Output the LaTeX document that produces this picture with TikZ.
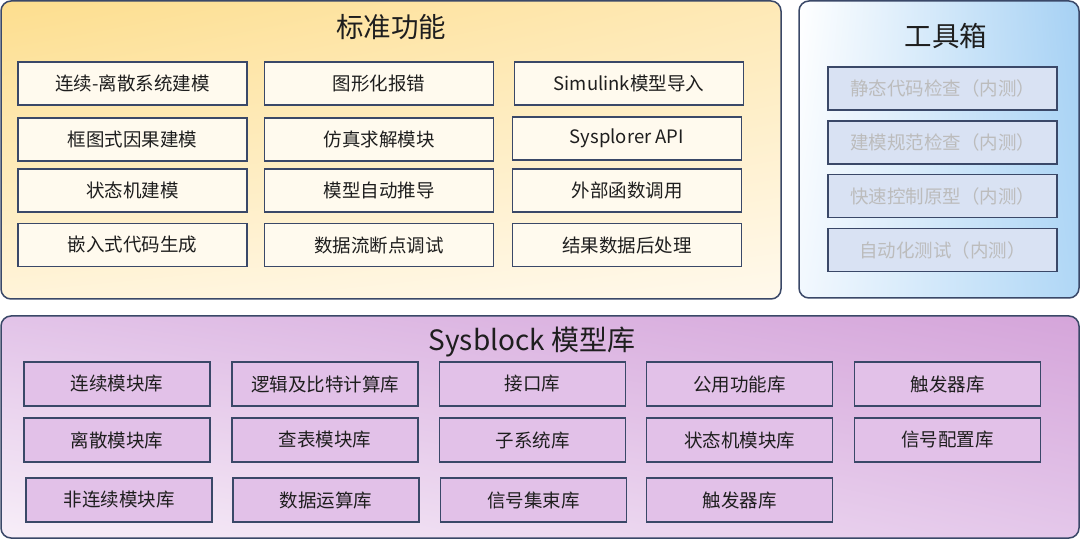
\documentclass[tikz,border=0pt]{standalone}
\usepackage{fontspec}
\usetikzlibrary{shadings}
\setmainfont{Noto Sans CJK SC}
\definecolor{frame}{HTML}{3A4868}
\definecolor{txt}{HTML}{1E1E1E}
\definecolor{ybox}{HTML}{FFFAEE}
\definecolor{bbox}{HTML}{D9E2F3}
\definecolor{btxt}{HTML}{BCBCBC}
\definecolor{pbox}{HTML}{E2C1E8}
\definecolor{yUL}{HTML}{FDDE8E}
\definecolor{yUR}{HTML}{FEE9B6}
\definecolor{yLL}{HTML}{FFF4DA}
\definecolor{yLR}{HTML}{FFF9EC}
\definecolor{bUL}{HTML}{FFFFFF}
\definecolor{bUR}{HTML}{A6D1F4}
\definecolor{bLL}{HTML}{F2F8FE}
\definecolor{bLR}{HTML}{B0D7F6}
\definecolor{pUL}{HTML}{E2C3E8}
\definecolor{pUR}{HTML}{D5A5DA}
\definecolor{pLL}{HTML}{F7EEF8}
\definecolor{pLR}{HTML}{E4C7EA}
\begin{document}
\begin{tikzpicture}[x=1pt,y=-1pt,
  panel/.style={draw=frame, line width=1.5pt, rounded corners=10pt, rectangle, inner sep=0pt},
  boxbase/.style={draw=frame, line width=1.4pt, rectangle, inner sep=0pt, text=txt,
    font=\fontsize{18.5}{21}\selectfont},
  ybx/.style={boxbase, fill=ybox, minimum width=229pt, minimum height=43pt},
  bbx/.style={boxbase, fill=bbox, text=btxt, minimum width=229pt, minimum height=43pt},
  pbx/.style={boxbase, fill=pbox, minimum width=186pt, minimum height=44pt},
  ttl/.style={text=txt, inner sep=0pt}
]
\useasboundingbox (0,0) rectangle (1080,540);
% panels
\node[panel, minimum width=780pt, minimum height=298pt,
  upper left=yUL, upper right=yUR, lower left=yLL, lower right=yLR] (std) at (391,150) {};
\node[panel, minimum width=280pt, minimum height=297pt,
  upper left=bUL, upper right=bUR, lower left=bLL, lower right=bLR] (tools) at (939,149.5) {};
\node[panel, minimum width=1078pt, minimum height=222pt,
  upper left=pUL, upper right=pUR, lower left=pLL, lower right=pLR] (lib) at (540,427) {};
% titles
\node[ttl, font=\fontsize{27.5}{30}\selectfont] (t1) at (391,27) {标准功能};
\node[ttl, font=\fontsize{27.5}{30}\selectfont] (t2) at (946,36) {工具箱};
\node[ttl, font=\fontsize{28}{31}\selectfont] (t3) at (532,342) {Sysblock 模型库};
% standard
\node[ybx] (a1) at (132.5,83.5) {连续-离散系统建模};
\node[ybx] (a2) at (379,83.5) {图形化报错};
\node[ybx] (a3) at (629,83.5) {Simulink模型导入};
\node[ybx] (b1) at (132.5,139.5) {框图式因果建模};
\node[ybx] (b2) at (379,139.5) {仿真求解模块};
\node[ybx] (b3) at (627,138.5) {Sysplorer API};
\node[ybx] (c1) at (132.5,190.5) {状态机建模};
\node[ybx] (c2) at (379,190.5) {模型自动推导};
\node[ybx] (c3) at (627,190.5) {外部函数调用};
\node[ybx] (d1) at (132.5,245) {嵌入式代码生成};
\node[ybx] (d2) at (379,245) {数据流断点调试};
\node[ybx] (d3) at (627,245) {结果数据后处理};
% tools
\node[bbx] (e1) at (942.5,88.5) {静态代码检查（内测）};
\node[bbx] (e2) at (942.5,142.5) {建模规范检查（内测）};
\node[bbx] (e3) at (942.5,196) {快速控制原型（内测）};
\node[bbx] (e4) at (942.5,250) {自动化测试（内测）};
% library
\node[pbx] (f1) at (117,384) {连续模块库};
\node[pbx] (f2) at (325,384) {逻辑及比特计算库};
\node[pbx] (f3) at (532.5,384) {接口库};
\node[pbx] (f4) at (739.5,384) {公用功能库};
\node[pbx] (f5) at (947.5,384) {触发器库};
\node[pbx] (g1) at (117,440) {离散模块库};
\node[pbx] (g2) at (325,440) {查表模块库};
\node[pbx] (g3) at (532.5,440) {子系统库};
\node[pbx] (g4) at (739.5,440) {状态机模块库};
\node[pbx] (g5) at (947.5,440) {信号配置库};
\node[pbx] (h1) at (119,500) {非连续模块库};
\node[pbx] (h2) at (326,500) {数据运算库};
\node[pbx] (h3) at (533.5,500) {信号集束库};
\node[pbx] (h4) at (739.5,500) {触发器库};
\end{tikzpicture}
\end{document}
